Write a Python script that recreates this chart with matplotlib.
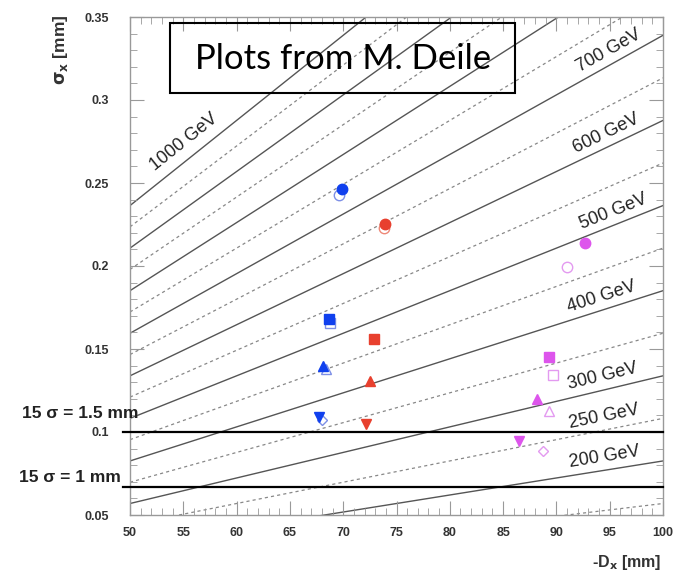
import numpy as np
import matplotlib.pyplot as plt
from matplotlib.patches import Rectangle
from matplotlib.ticker import MultipleLocator

# mass lines (GeV): sigma = (D * M / sqrt_s - d_offset) / 15
masses = [150, 200, 250, 300, 350, 400, 450, 500, 550, 600, 650, 700,
          750, 800, 850, 900, 950, 1000]
sqrt_s = 13000.0
d_offset = 0.3   # mm
n_sigma = 15

# labelled lines and where the label sits along -D_x
label_masses = [1000, 700, 600, 500, 400, 300, 250, 200]
label_pos = [56.0, 95.5, 95.2, 95.8, 94.6, 94.6, 94.7, 94.7]

# 15 sigma limits
limit_sigma = [0.1, 0.0667]
limit_text = ['15 σ = 1.5 mm', '15 σ = 1 mm']

# points: (D, sigma)
blue_full = {'o': (69.9, 0.2464), 's': (68.7, 0.168), '^': (68.1, 0.140), 'v': (67.7, 0.109)}
blue_open = {'o': (69.6, 0.2428), 's': (68.8, 0.1657), '^': (68.4, 0.138), 'D': (68.0, 0.1072)}
red_full = {'o': (73.9, 0.2253), 's': (72.9, 0.156), '^': (72.5, 0.131), 'v': (72.1, 0.1048)}
red_open = {'o': (73.8, 0.2229)}
mag_full = {'o': (92.7, 0.2139), 's': (89.3, 0.1452), '^': (88.2, 0.1199), 'v': (86.5, 0.0946)}
mag_open = {'o': (91.0, 0.1994), 's': (89.7, 0.1343), '^': (89.3, 0.1127), 'D': (88.7, 0.0886)}


def sig_line(D, M):
    return (D * M / sqrt_s - d_offset) / n_sigma


fig = plt.figure(figsize=(6.88, 5.76), dpi=100)
ax = fig.add_axes([130/688, 1-515/576, 533/688, 498/576])
ax.set_xlim(50, 100)
ax.set_ylim(0.05, 0.35)

D = np.array([50.0, 100.0])
for M in masses:
    if M % 100 == 0:
        ax.plot(D, sig_line(D, M), color='#555555', lw=1.0, zorder=1)
    else:
        ax.plot(D, sig_line(D, M), color='#888888', lw=0.9, ls=(0, (2.5, 2.5)), zorder=1)

# labels along the lines
for M, xpos in zip(label_masses, label_pos):
    p1 = ax.transData.transform((xpos - 1, sig_line(xpos - 1, M)))
    p2 = ax.transData.transform((xpos + 1, sig_line(xpos + 1, M)))
    ang = np.degrees(np.arctan2(p2[1] - p1[1], p2[0] - p1[0]))
    k = 11 if M == 1000 else 9.5
    off = (-np.sin(np.radians(ang)) * k, np.cos(np.radians(ang)) * k)
    ax.annotate('%d GeV' % M, (xpos, sig_line(xpos, M)), xytext=off,
                textcoords='offset points', ha='center', va='center',
                rotation=ang, rotation_mode='anchor', fontsize=13,
                family='Liberation Sans', color='#222222')

# horizontal limits
for s in limit_sigma:
    ax.plot([-0.014, 1.0], [s, s], color='black', lw=1.6,
            transform=ax.get_yaxis_transform(), clip_on=False, zorder=3)
fig.text(138/688, 1-413/576, limit_text[0], ha='right', va='center',
         fontsize=12.5, fontweight='bold', family='Liberation Sans', color='#222222')
fig.text(121/688, 1-478/576, limit_text[1], ha='right', va='center',
         fontsize=12.5, fontweight='bold', family='Liberation Sans', color='#222222')

# markers
def draw(pts, color, filled):
    for m, (x, y) in pts.items():
        ms = 7.5 if m != 'D' else 5.5
        if filled:
            ax.plot(x, y, marker=m, ms=ms, color=color, mec=color, ls='none', zorder=5)
        else:
            ax.plot(x, y, marker=m, ms=ms, mfc='none', mec=color, mew=1.0, ls='none', zorder=4)

draw(blue_open, '#7d8fe6', False)
draw(blue_full, '#1040ee', True)
draw(red_open, '#ee8877', False)
draw(red_full, '#e8402e', True)
draw(mag_open, '#e39af0', False)
draw(mag_full, '#dd55ec', True)

# text box
ax.add_patch(Rectangle((0.075, 0.847), 0.647, 0.141, transform=ax.transAxes,
                       fill=False, ec='black', lw=1.5, zorder=6))
ax.text(0.399, 0.915, 'Plots from M. Deile', transform=ax.transAxes,
        ha='center', va='center', fontsize=25, family='Lato', zorder=6)

# axes styling (ROOT-like)
for sp in ax.spines.values():
    sp.set_color('#999999')
    sp.set_linewidth(1.0)
ax.xaxis.set_major_locator(MultipleLocator(5))
ax.xaxis.set_minor_locator(MultipleLocator(1))
ax.yaxis.set_major_locator(MultipleLocator(0.05))
ax.yaxis.set_minor_locator(MultipleLocator(0.01))
ax.tick_params(which='both', direction='in', top=True, right=True, color='#999999')
ax.tick_params(which='major', length=10)
ax.tick_params(which='minor', length=5)
ax.tick_params(axis='x', which='major', pad=9)
ax.tick_params(axis='y', which='major', pad=15)
ax.set_xticks(np.arange(50, 101, 5))
ax.set_xticklabels([str(v) for v in range(50, 101, 5)])
ax.set_yticks([0.05, 0.1, 0.15, 0.2, 0.25, 0.3, 0.35])
ax.set_yticklabels(['0.05', '0.1', '0.15', '0.2', '0.25', '0.3', '0.35'])
for lab in ax.get_xticklabels() + ax.get_yticklabels():
    lab.set_fontweight('bold')
    lab.set_fontsize(9)
    lab.set_family('Liberation Sans')
    lab.set_color('#333333')

fig.text(60/688, 1-15/576, r'$\mathbf{\sigma_x}$ [mm]', rotation=90, ha='center', va='top',
         fontsize=12.5, fontweight='bold', family='Liberation Sans', color='#333333')
fig.text(661/688, 1-563/576, r'-D$_\mathbf{x}$ [mm]', ha='right', va='center',
         fontsize=11.5, fontweight='bold', family='Liberation Sans', color='#333333')

fig.savefig('out.png', dpi=100)
